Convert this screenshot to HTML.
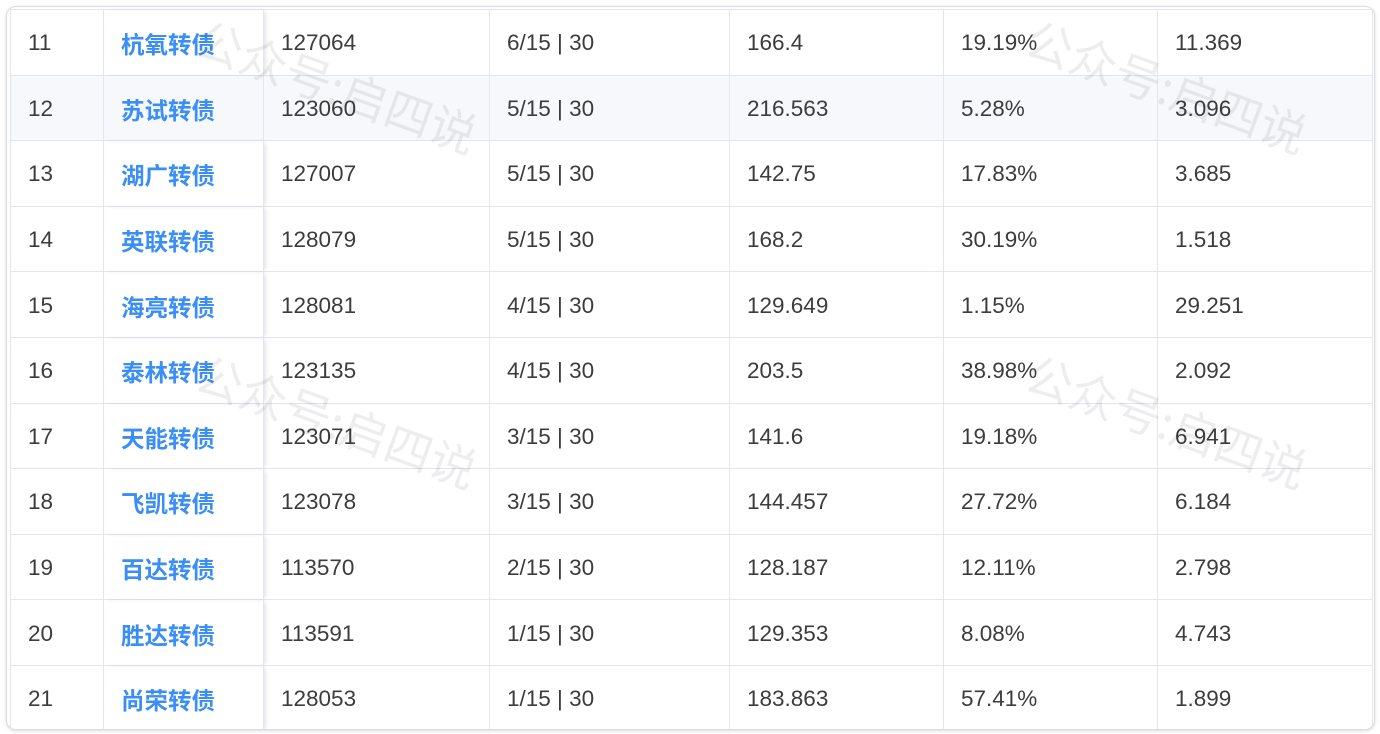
<!DOCTYPE html>
<html><head><meta charset="utf-8"><style>
body{margin:0;width:1380px;height:734px;background:#fff;overflow:hidden;position:relative;font-family:"Liberation Sans","Noto Sans CJK SC",sans-serif;}
.card{position:absolute;left:6px;top:6px;width:1367px;height:722px;border:1px solid #dcdde3;border-radius:10px;box-shadow:0 1px 3px rgba(0,0,0,0.15);overflow:hidden;background:#fff}
.grid{position:absolute;left:3px;top:2px;display:grid;grid-template-columns:93px 160px 226px 240px 214px 214px 215px;grid-template-rows:repeat(11,65.6px);border-top:1px solid #e3e6ef;border-left:1px solid #e3e6ef}
.grid div{border-right:1px solid #e3e6ef;border-bottom:1px solid #e3e6ef;padding-left:17px;padding-top:2px;display:flex;align-items:center;font-size:22.5px;color:#3c3c3c;box-sizing:border-box}
.grid div.n{color:#3a8ef6;font-weight:bold;font-size:23.5px;font-family:"Noto Sans CJK SC",sans-serif}
.grid div.f{box-shadow:3px 0 5px -2px rgba(0,0,0,0.15)}
.grid div.h{background:#f6f8fc}
.wm{position:absolute;font-size:47px;color:rgba(0,0,0,0.07);transform:rotate(20deg);font-family:"Noto Sans CJK SC",sans-serif;white-space:nowrap}
</style></head><body>
<div class="card"><div class="grid">
<div>11</div><div class="n f">杭氧转债</div><div>127064</div><div>6/15 | 30</div><div>166.4</div><div>19.19%</div><div>11.369</div>
<div class="h">12</div><div class="n f h">苏试转债</div><div class="h">123060</div><div class="h">5/15 | 30</div><div class="h">216.563</div><div class="h">5.28%</div><div class="h">3.096</div>
<div>13</div><div class="n f">湖广转债</div><div>127007</div><div>5/15 | 30</div><div>142.75</div><div>17.83%</div><div>3.685</div>
<div>14</div><div class="n f">英联转债</div><div>128079</div><div>5/15 | 30</div><div>168.2</div><div>30.19%</div><div>1.518</div>
<div>15</div><div class="n f">海亮转债</div><div>128081</div><div>4/15 | 30</div><div>129.649</div><div>1.15%</div><div>29.251</div>
<div>16</div><div class="n f">泰林转债</div><div>123135</div><div>4/15 | 30</div><div>203.5</div><div>38.98%</div><div>2.092</div>
<div>17</div><div class="n f">天能转债</div><div>123071</div><div>3/15 | 30</div><div>141.6</div><div>19.18%</div><div>6.941</div>
<div>18</div><div class="n f">飞凯转债</div><div>123078</div><div>3/15 | 30</div><div>144.457</div><div>27.72%</div><div>6.184</div>
<div>19</div><div class="n f">百达转债</div><div>113570</div><div>2/15 | 30</div><div>128.187</div><div>12.11%</div><div>2.798</div>
<div>20</div><div class="n f">胜达转债</div><div>113591</div><div>1/15 | 30</div><div>129.353</div><div>8.08%</div><div>4.743</div>
<div>21</div><div class="n f">尚荣转债</div><div>128053</div><div>1/15 | 30</div><div>183.863</div><div>57.41%</div><div>1.899</div>
</div></div>
<div class="wm" style="left:190px;top:50px">公众号:启四说</div>
<div class="wm" style="left:1020px;top:50px">公众号:启四说</div>
<div class="wm" style="left:190px;top:385px">公众号:启四说</div>
<div class="wm" style="left:1020px;top:385px">公众号:启四说</div>
</body></html>
